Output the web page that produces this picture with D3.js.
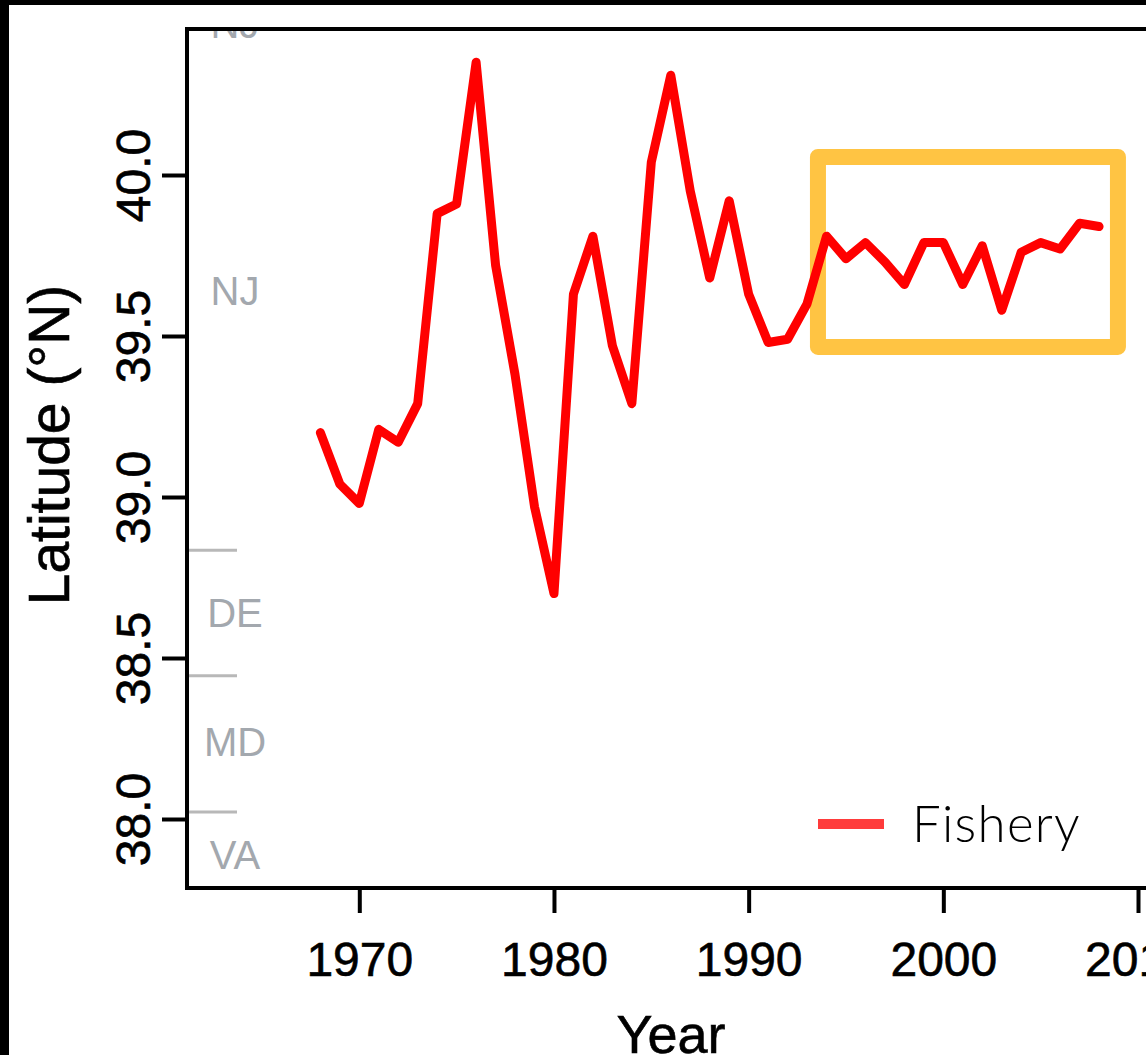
<!DOCTYPE html>
<html><head><meta charset="utf-8">
<script src="https://cdn.jsdelivr.net/npm/d3@7"></script>
<style>html,body{margin:0;padding:0;background:#000;}svg{display:block;}</style>
</head><body>
<script>
// ---- data ----
const years = [1968,1969,1970,1971,1972,1973,1974,1975,1976,1977,1978,1979,1980,1981,1982,1983,1984,1985,1986,1987,1988,1989,1990,1991,1992,1993,1994,1995,1996,1997,1998,1999,2000,2001,2002,2003,2004,2005,2006,2007,2008];
const fisheryLat = [39.20,39.04,38.98,39.21,39.17,39.29,39.88,39.91,40.35,39.72,39.38,38.97,38.70,39.63,39.81,39.47,39.29,40.04,40.31,39.95,39.68,39.92,39.63,39.48,39.49,39.60,39.81,39.74,39.79,39.73,39.66,39.79,39.79,39.66,39.78,39.58,39.76,39.79,39.77,39.85,39.84];
const xTicks = [1970,1980,1990,2000,2010];
const yTicks = [38.0,38.5,39.0,39.5,40.0];
const stateNames = ["NJ","NJ","DE","MD","VA"];
const stateLabelLat = [40.47,39.64,38.64,38.24,37.89];
const stateBoundaryLat = [38.835,38.445,38.022];
const seriesName = "Fishery";
const highlightYears = [1993.56, 2008.97];
const highlightLat = [39.466, 40.056];

(function(){
// ---- layout ----
const W = 1146, H = 1055;
const pLeft = 187, pTop = 29, pBottom = 888, pRight = 1160;
const FONT = "Liberation Sans, Arial, Helvetica, sans-serif";

const svg = d3.select("body").append("svg").attr("width", W).attr("height", H);
svg.append("rect").attr("x",0).attr("y",0).attr("width",W).attr("height",H).attr("fill","#000");
svg.append("rect").attr("x",9).attr("y",5).attr("width",W).attr("height",H).attr("fill","#fff");

const x = d3.scaleLinear().domain([1970, 2010]).range([359.3, 1138]);
const y = d3.scaleLinear().domain([38, 40]).range([819, 175]);

svg.append("defs").append("clipPath").attr("id","plotclip")
  .append("rect").attr("x",pLeft).attr("y",pTop).attr("width",pRight-pLeft).attr("height",pBottom-pTop);

const plot = svg.append("g").attr("clip-path","url(#plotclip)");

plot.selectAll("line.bound").data(stateBoundaryLat).enter().append("line")
  .attr("class","bound")
  .attr("x1", pLeft+2).attr("x2", 237)
  .attr("y1", d=>y(d)).attr("y2", d=>y(d))
  .attr("stroke","#b8b8b8").attr("stroke-width",3);

plot.selectAll("text.state").data(stateNames).enter().append("text")
  .attr("class","state")
  .attr("x", 235)
  .attr("y", (d,i)=>y(stateLabelLat[i]))
  .attr("dy","0.36em")
  .attr("text-anchor","middle")
  .attr("font-family",FONT)
  .attr("font-size",40)
  .attr("fill","#a3a8ae")
  .text(d=>d);

plot.append("rect")
  .attr("x", x(highlightYears[0]))
  .attr("y", y(highlightLat[1]))
  .attr("width", x(highlightYears[1]) - x(highlightYears[0]))
  .attr("height", y(highlightLat[0]) - y(highlightLat[1]))
  .attr("fill","none").attr("stroke","#ffc443").attr("stroke-width",16)
  .attr("stroke-linejoin","round");

const line = d3.line().x((d,i)=>x(years[i])).y(d=>y(d));
plot.append("path").datum(fisheryLat)
  .attr("d", line)
  .attr("fill","none").attr("stroke","#ff0000").attr("stroke-width",9)
  .attr("stroke-linejoin","round").attr("stroke-linecap","round");

svg.append("rect").attr("x",pLeft).attr("y",pTop).attr("width",pRight-pLeft).attr("height",pBottom-pTop)
  .attr("fill","none").attr("stroke","#000").attr("stroke-width",4);

const xAxis = d3.axisBottom(x).tickValues(xTicks).tickFormat(d3.format("d")).tickSize(25).tickSizeOuter(0);
const gx = svg.append("g").attr("transform",`translate(0,${pBottom})`).call(xAxis);
gx.select(".domain").remove();
gx.selectAll(".tick line").attr("stroke","#000").attr("stroke-width",4);
gx.selectAll(".tick text").attr("font-family",FONT)
  .attr("font-size",48).attr("fill","#000").attr("stroke","#000").attr("stroke-width",0.6)
  .attr("y",54).attr("dy","0.71em");

const yAxis = d3.axisLeft(y).tickValues(yTicks).tickFormat(d3.format(".1f")).tickSize(25).tickSizeOuter(0);
const gy = svg.append("g").attr("transform",`translate(${pLeft},0)`).call(yAxis);
gy.select(".domain").remove();
gy.selectAll(".tick line").attr("stroke","#000").attr("stroke-width",4);
gy.selectAll(".tick text").attr("font-family",FONT)
  .attr("font-size",48).attr("fill","#000").attr("stroke","#000").attr("stroke-width",0.6)
  .attr("x",0).attr("dy",0).attr("text-anchor","middle")
  .attr("transform","translate(-37,0) rotate(-90)");

svg.append("text").attr("x",671).attr("y",1053).attr("text-anchor","middle")
  .attr("font-family",FONT).attr("font-size",54).attr("fill","#000").attr("stroke","#000").attr("stroke-width",0.6)
  .text("Year");
svg.append("text").attr("transform","translate(69,445) rotate(-90)").attr("text-anchor","middle")
  .attr("font-family",FONT).attr("font-size",57).attr("fill","#000").attr("stroke","#000").attr("stroke-width",0.6)
  .text("Latitude (°N)");

svg.append("line").attr("x1",818).attr("x2",884).attr("y1",824).attr("y2",824)
  .attr("stroke","#ff3b3b").attr("stroke-width",10);
svg.append("text").attr("x",912).attr("y",842)
  .attr("font-family","Lato, sans-serif").attr("font-weight",300).attr("font-size",51)
  .attr("letter-spacing",1.3).attr("fill","#000")
  .text(seriesName);
})();
</script>
</body></html>
